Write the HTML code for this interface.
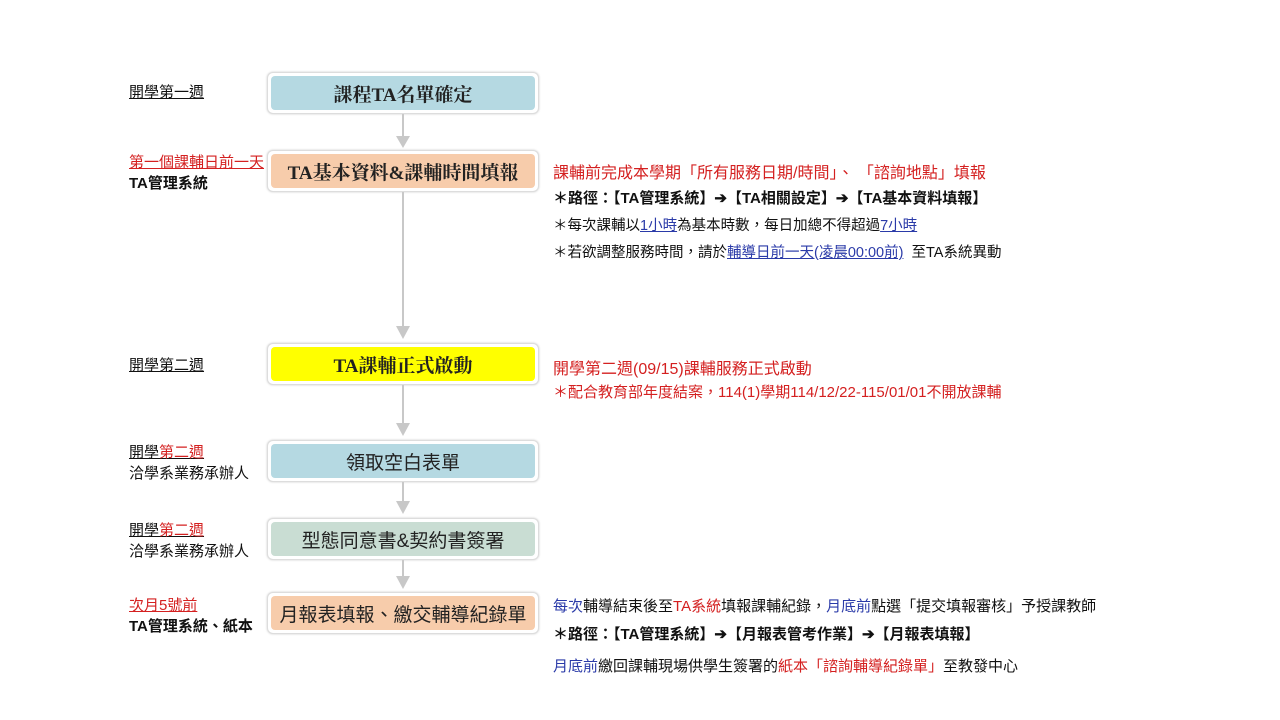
<!DOCTYPE html>
<html><head><meta charset="utf-8"><style>
body{margin:0;width:1280px;height:720px;background:#fff;position:relative;overflow:hidden;font-family:"Liberation Sans","Noto Sans CJK TC",sans-serif}
.a{position:absolute;white-space:nowrap}
.box{position:absolute;left:267px;width:270px;height:40px;border:1px solid #ddd;border-radius:6px;background:#fff;box-shadow:0 0 2px #ccc}
.box div{position:absolute;left:3px;top:3px;right:3px;bottom:3px;border-radius:4px;display:flex;align-items:center;justify-content:center;font-size:19px;color:#222;font-family:"Liberation Serif","Noto Serif CJK SC",serif;font-weight:bold}
.box div.s{font-family:"Liberation Sans","Noto Sans CJK TC",sans-serif;font-weight:normal;font-size:19px}
.l{font-size:15px;color:#111}
.u{text-decoration:underline}
.r{color:#d42020}.b{color:#2a3aa8}
.t{font-size:14.5px;color:#111}
.tr{font-size:16px;color:#d42020}
</style></head><body>
<svg class="a" style="left:0;top:0" width="1280" height="720">
<g stroke="#c8c8c8" stroke-width="2"><line x1="403" y1="113" x2="403" y2="137"/><line x1="403" y1="191" x2="403" y2="327"/><line x1="403" y1="384" x2="403" y2="424"/><line x1="403" y1="481" x2="403" y2="502"/><line x1="403" y1="559" x2="403" y2="577"/></g>
<g fill="#c8c8c8"><polygon points="396,136 410,136 403,148"/><polygon points="396,326 410,326 403,339"/><polygon points="396,423 410,423 403,436"/><polygon points="396,501 410,501 403,514"/><polygon points="396,576 410,576 403,589"/></g>
</svg>
<div class="box" style="top:72px"><div style="background:#b5d9e2">課程TA名單確定</div></div>
<div class="box" style="top:150px"><div style="background:#f7ccab">TA基本資料&amp;課輔時間填報</div></div>
<div class="box" style="top:343px"><div style="background:#ffff00">TA課輔正式啟動</div></div>
<div class="box" style="top:440px"><div class="s" style="background:#b5d9e2">領取空白表單</div></div>
<div class="box" style="top:518px"><div class="s" style="background:#c9ddd3">型態同意書&amp;契約書簽署</div></div>
<div class="box" style="top:592px"><div class="s" style="background:#f7ccab">月報表填報、繳交輔導紀錄單</div></div>

<div class="a l u" style="left:129px;top:81px">開學第一週</div>
<div class="a l u r" style="left:129px;top:151px">第一個課輔日前一天</div>
<div class="a l" style="left:129px;top:172px;font-weight:bold">TA管理系統</div>
<div class="a l u" style="left:129px;top:354px">開學第二週</div>
<div class="a l u" style="left:129px;top:441px">開學<span class="r">第二週</span></div>
<div class="a l" style="left:129px;top:462px">洽學系業務承辦人</div>
<div class="a l u" style="left:129px;top:519px">開學<span class="r">第二週</span></div>
<div class="a l" style="left:129px;top:540px">洽學系業務承辦人</div>
<div class="a l u r" style="left:129px;top:594px">次月5號前</div>
<div class="a l" style="left:129px;top:615px;font-weight:bold">TA管理系統、紙本</div>

<div class="a tr" style="left:553px;top:159px">課輔前完成本學期「所有服務日期/時間」、 「諮詢地點」填報</div>
<div class="a t" style="left:553px;top:187px;font-weight:bold;font-size:15px">＊路徑：【TA管理系統】➔【TA相關設定】➔【TA基本資料填報】</div>
<div class="a t" style="left:553px;top:214px">＊每次課輔以<span class="b u">1小時</span>為基本時數，每日加總不得超過<span class="b u">7小時</span></div>
<div class="a t" style="left:553px;top:241px">＊若欲調整服務時間，請於<span class="b u">輔導日前一天(凌晨00:00前)</span>&nbsp; 至TA系統異動</div>
<div class="a tr" style="left:553px;top:355px">開學第二週(09/15)課輔服務正式啟動</div>
<div class="a" style="left:553px;top:381px;font-size:15px;color:#d42020">＊配合教育部年度結案，114(1)學期114/12/22-115/01/01不開放課輔</div>
<div class="a t" style="left:553px;top:595px;font-size:15px"><span class="b">每次</span>輔導結束後至<span class="r">TA系統</span>填報課輔紀錄，<span class="b">月底前</span>點選「提交填報審核」予授課教師</div>
<div class="a t" style="left:553px;top:623px;font-weight:bold;font-size:15px">＊路徑：【TA管理系統】➔【月報表管考作業】➔【月報表填報】</div>
<div class="a t" style="left:553px;top:655px;font-size:15px"><span class="b">月底前</span>繳回課輔現場供學生簽署的<span class="r">紙本「諮詢輔導紀錄單」</span>至教發中心</div>
</body></html>
